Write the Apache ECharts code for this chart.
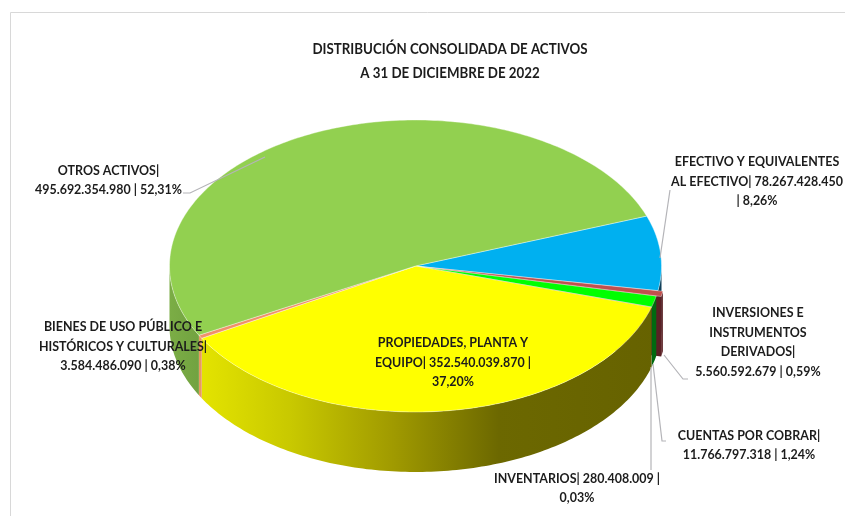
<!DOCTYPE html>
<html><head><meta charset="utf-8">
<style>html,body{margin:0;padding:0;background:#fff}#c{width:845px;height:516px}</style>
<script src="https://cdn.jsdelivr.net/npm/echarts@6/dist/echarts.min.js"></script>
</head><body><div id="c"></div>
<script>
const categories = ['EFECTIVO Y EQUIVALENTES AL EFECTIVO','INVERSIONES E INSTRUMENTOS DERIVADOS','CUENTAS POR COBRAR','INVENTARIOS','PROPIEDADES, PLANTA Y EQUIPO','BIENES DE USO PÚBLICO E HISTÓRICOS Y CULTURALES','OTROS ACTIVOS'];
const values = [78267428450,5560592679,11766797318,280408009,352540039870,3584486090,495692354980];
const labelTexts = [
 'EFECTIVO Y EQUIVALENTES\nAL EFECTIVO| 78.267.428.450\n| 8,26%',
 'INVERSIONES E\nINSTRUMENTOS\nDERIVADOS|\n5.560.592.679 | 0,59%',
 'CUENTAS POR COBRAR|\n11.766.797.318 | 1,24%',
 'INVENTARIOS| 280.408.009 |\n0,03%',
 'PROPIEDADES, PLANTA Y\nEQUIPO| 352.540.039.870 |\n37,20%',
 'BIENES DE USO PÚBLICO E\nHISTÓRICOS Y CULTURALES|\n3.584.486.090 | 0,38%',
 'OTROS ACTIVOS|\n495.692.354.980 | 52,31%'
];
const titleText = 'DISTRIBUCIÓN CONSOLIDADA DE ACTIVOS\nA 31 DE DICIEMBRE DE 2022';

const topColors = ['#00b0f0','#c0504d','#00ff00','#9b7fc0','#ffff00','#f0906a','#92d050'];
const wallColors = ['#10405a','#5a2024','#006a10','#5a4a70',null,'#e89a60',null];
const explode = [0,5,0,0,0,0,0];
const labelPos = [[757,181],[758,342],[749,445],[577,488],[453,362],[123,346],[108.5,180]];
const leaders = [
 [[670,190],[660,258]],
 [[664,355],[683,379],[688,379]],
 [[653,364],[662,441],[666,441]],
 [[651,367],[651,470]],
 null,
 null,
 [[183,193],[190,193],[265,157]]
];
const CX=415.5, CY=266, RX=246, RY=146, DEPTH=60, START=-20;
const FONT = 'Lato,"Liberation Sans",sans-serif';

const total = values.reduce((a,b)=>a+b,0);
const angles = []; let run = START;
values.forEach(v=>{ const s=run; run+=v/total*360; angles.push([s,run]); });

const pt=(deg,ox,oy)=>{const r=deg*Math.PI/180;return [CX+ox+RX*Math.cos(r),CY+oy+RY*Math.sin(r)];};
const arc=(a0,a1,ox,oy,d)=>{const n=Math.max(2,Math.ceil(Math.abs(a1-a0)));const p=[];
  for(let i=0;i<=n;i++){const q=pt(a0+(a1-a0)*i/n,ox,oy);p.push([q[0],q[1]+(d||0)]);}return p;};
const G=(x0,x1,stops)=>new echarts.graphic.LinearGradient(x0,0,x1,0,stops.map(s=>({offset:s[0],color:s[1]})),true);
const yellowWall=G(200,660,[[0,'#e4e400'],[0.2,'#c8c800'],[0.42,'#a09a00'],[0.65,'#6c6800'],[1,'#666200']]);
const greenWall=G(170,205,[[0,'#7bad45'],[1,'#70a040']]);

function renderItem(params,api){
  const i=params.dataIndex, [a0,a1]=angles[i];
  const mid=(a0+a1)/2*Math.PI/180;
  const ox=explode[i]*Math.cos(mid), oy=explode[i]*Math.sin(mid)*RY/RX;
  const children=[];
  const wf = i===4?yellowWall : i===6?greenWall : wallColors[i];
  const s=Math.max(a0,0), e=Math.min(a1,180);
  if(e>s){
    const pts=arc(s,e,ox,oy,0).concat(arc(e,s,ox,oy,DEPTH));
    children.push({type:'polygon',shape:{points:pts},style:{fill:wf},z2:10+i});
  }
  if(explode[i]>0){
    const o=pt(a1,ox,oy), c=[CX+ox,CY+oy];
    children.push({type:'polygon',shape:{points:[c,o,[o[0],o[1]+DEPTH],[c[0],c[1]+DEPTH]]},style:{fill:wf},z2:9+i});
  }
  const top=[[CX+ox,CY+oy]].concat(arc(a0,a1,ox,oy,0));
  children.push({type:'polygon',shape:{points:top},
    style:{fill:topColors[i],stroke:'rgba(255,255,255,0.55)',lineWidth:i===3?0.3:0.7,lineJoin:'round'},z2:explode[i]>0?60:50});
  if(leaders[i]) children.push({type:'polyline',shape:{points:leaders[i]},
    style:{fill:null,stroke:'#b4b4b8',lineWidth:1.2},z2:70});
  children.push({type:'text',x:labelPos[i][0],y:labelPos[i][1],scaleX:0.89,
    style:{text:labelTexts[i],font:'bold 14px '+FONT,fill:'#1c1c1c',align:'center',verticalAlign:'middle',lineHeight:19.7},z2:80});
  return {type:'group',children};
}

const chart=echarts.init(document.getElementById('c'),null,{renderer:'canvas'});
chart.setOption({
  animation:false,
  backgroundColor:'#fff',
  graphic:[
    {type:'polyline',shape:{points:[[10.5,516],[10.5,12.5],[845,12.5]]},style:{fill:null,stroke:'#d8d8d8',lineWidth:1}},
    {type:'text',x:450,y:61,scaleX:0.9,style:{text:titleText,font:'bold 14.8px '+FONT,fill:'#1c1c1c',align:'center',verticalAlign:'middle',lineHeight:23.5}}
  ],
  series:[{type:'custom',coordinateSystem:'none',clip:false,renderItem,
    data:values.map((v,i)=>({name:categories[i],value:[i,v]}))}]
});
</script></body></html>
